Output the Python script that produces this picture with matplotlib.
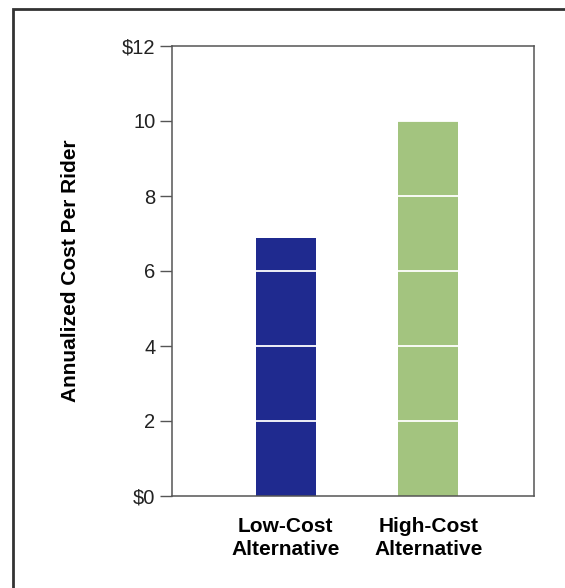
import matplotlib.pyplot as plt
from matplotlib.patches import Rectangle

# annualized cost per rider, dollars
categories = ["Low-Cost\nAlternative", "High-Cost\nAlternative"]
costs = [6.87, 10.0]
bar_colors = ["#1f2a8f", "#a3c47f"]
yticks = [0, 2, 4, 6, 8, 10, 12]
ytick_labels = ["$0", "2", "4", "6", "8", "10", "$12"]

plt.rcParams['font.family'] = ['Liberation Sans', 'DejaVu Sans']

fig = plt.figure(figsize=(5.65, 5.88), dpi=100)
ax = fig.add_axes([172/565, 1 - 496/588, 362/565, 450/588])

x = range(len(categories))
ax.bar(x, costs, width=0.42, color=bar_colors, zorder=1)

# white rules across the bars at each tick
for v in yticks[1:-1]:
    ax.axhline(v, color="white", lw=1.3, zorder=2)

ax.set_xlim(-0.796, 1.739)
ax.set_ylim(0, 12)
ax.set_yticks(yticks)
ax.set_yticklabels(ytick_labels, fontsize=14.5, color="#222222")
ax.set_xticks(list(x))
ax.set_xticklabels(categories, fontsize=15, fontweight="bold", linespacing=1.25)
ax.tick_params(axis="x", length=0, pad=15)
ax.tick_params(axis="y", direction="out", length=9, width=1, color="#555555", pad=3)
for s in ax.spines.values():
    s.set_color("#555555")
    s.set_linewidth(1.1)

ax.set_ylabel("Annualized Cost Per Rider", fontsize=15, fontweight="bold", labelpad=30)

# outer frame around the chart
fig.patches.append(Rectangle((13/565, -0.1), 1.2, 1 - 9/588 + 0.1,
                             transform=fig.transFigure, fill=False,
                             edgecolor="#333333", lw=2))

fig.savefig("out.png", dpi=100)
